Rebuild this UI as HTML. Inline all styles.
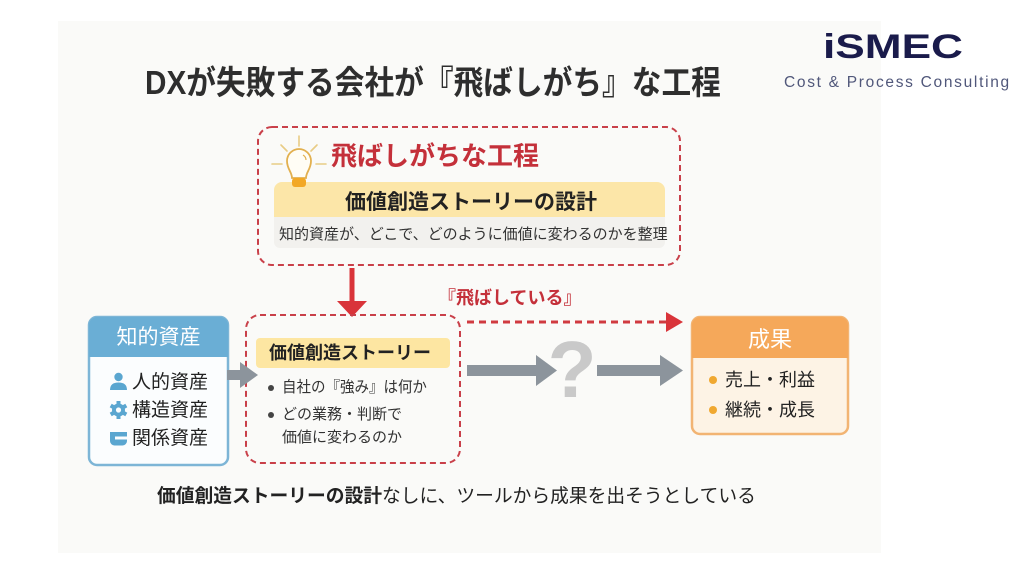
<!DOCTYPE html>
<html>
<head>
<meta charset="utf-8">
<style>
html,body{margin:0;padding:0;}
body{width:1024px;height:576px;position:relative;overflow:hidden;background:#ffffff;font-family:"Liberation Sans","Noto Sans CJK JP",sans-serif;}
.t{position:absolute;white-space:nowrap;font-family:"Liberation Sans","Noto Sans CJK JP",sans-serif;}
#panel{position:absolute;left:58px;top:21px;width:823px;height:532px;background:#fafaf8;}
svg{position:absolute;left:0;top:0;}
</style>
</head>
<body>
<div id="panel"></div>

<svg width="1024" height="576" viewBox="0 0 1024 576">
  <!-- top dashed box -->
  <rect x="258" y="127" width="422" height="138" rx="14" ry="14" fill="none" stroke="#c9404a" stroke-width="2" stroke-dasharray="6 4"/>
  <!-- yellow band -->
  <path d="M274,190 a8,8 0 0 1 8,-8 h375 a8,8 0 0 1 8,8 v27 h-391 z" fill="#fce6a8"/>
  <path d="M274,217 h391 v25 a6,6 0 0 1 -6,6 h-379 a6,6 0 0 1 -6,-6 z" fill="#f2f1ee"/>

  <!-- lightbulb -->
  <g stroke="#e8cc85" stroke-width="1.6" stroke-linecap="round">
    <line x1="299" y1="136" x2="299" y2="146"/>
    <line x1="281" y1="145" x2="287" y2="151"/>
    <line x1="317" y1="145" x2="311" y2="151"/>
    <line x1="272" y1="164" x2="282" y2="164"/>
    <line x1="316" y1="164" x2="326" y2="164"/>
  </g>
  <path d="M292,178 C292,172 287,169 287,161 A12,12 0 1 1 311,161 C311,169 306,172 306,178 Z" fill="#fffdf5" stroke="#e2b04f" stroke-width="1.8"/>
  <path d="M303,155 a6,6 0 0 1 3,5" fill="none" stroke="#e2b04f" stroke-width="1.2"/>
  <rect x="292" y="178" width="14" height="9" rx="3" fill="#f2a826"/>

  <!-- red down arrow -->
  <rect x="349.5" y="268" width="5" height="35" fill="#d9343a"/>
  <polygon points="337,301 367,301 352,317" fill="#d9343a"/>

  <!-- dashed red arrow -->
  <line x1="467" y1="322" x2="668" y2="322" stroke="#d03a40" stroke-width="3" stroke-dasharray="7 5"/>
  <polygon points="666,312 683,322 666,332" fill="#d9343a"/>

  <!-- middle dashed box -->
  <rect x="246" y="315" width="214" height="148" rx="14" ry="14" fill="none" stroke="#c9404a" stroke-width="2" stroke-dasharray="6 4"/>
  <rect x="256" y="338" width="194" height="30" rx="4" fill="#fde6a2"/>
  <circle cx="271" cy="388" r="3" fill="#444"/>
  <circle cx="271" cy="415" r="3" fill="#444"/>

  <!-- left box -->
  <rect x="89" y="317" width="139" height="148" rx="8" fill="#fbfdfe" stroke="#7db5d6" stroke-width="2.5"/>
  <path d="M89,357 v-32 a8,8 0 0 1 8,-8 h123 a8,8 0 0 1 8,8 v32 z" fill="#6aaed5"/>
  <!-- person icon -->
  <circle cx="118.5" cy="377" r="4.2" fill="#5aa6d0"/>
  <path d="M110,390 Q110,382.5 118.5,382.5 Q127,382.5 127,390 Z" fill="#5aa6d0"/>
  <!-- gear icon -->
  <g fill="#5aa6d0" transform="translate(118.5,410)">
    <circle r="6.5"/>
    <rect x="-2" y="-9" width="4" height="18"/>
    <rect x="-2" y="-9" width="4" height="18" transform="rotate(60)"/>
    <rect x="-2" y="-9" width="4" height="18" transform="rotate(120)"/>
    <circle r="2.6" fill="#fbfdfe"/>
  </g>
  <!-- relation icon -->
  <path d="M110,432 h17 v4.5 h-12 v3 h12 v1.5 a4.5,4.5 0 0 1 -4.5,4.5 h-8 a4.5,4.5 0 0 1 -4.5,-4.5 z" fill="#5aa6d0"/>

  <!-- gray arrow 1 -->
  <rect x="227" y="370" width="15" height="10" fill="#8c949c"/>
  <polygon points="240,362 258,375 240,388" fill="#8c949c"/>
  <!-- gray arrow 2 -->
  <rect x="467" y="365" width="72" height="11" fill="#8c949c"/>
  <polygon points="536,355 557,370.5 536,386" fill="#8c949c"/>
  <!-- gray arrow 3 -->
  <rect x="597" y="365" width="66" height="11" fill="#8c949c"/>
  <polygon points="660,355 683,370.5 660,386" fill="#8c949c"/>

  <!-- result box -->
  <rect x="692" y="317" width="156" height="117" rx="8" fill="#fdf3e5" stroke="#f2b473" stroke-width="2.5"/>
  <path d="M692,358 v-33 a8,8 0 0 1 8,-8 h140 a8,8 0 0 1 8,8 v33 z" fill="#f5a85a"/>
  <circle cx="713" cy="380" r="4" fill="#f0a830"/>
  <circle cx="713" cy="410" r="4" fill="#f0a830"/>

  <!-- question mark -->
  <text x="572" y="397" text-anchor="middle" font-family="Liberation Sans, sans-serif" font-weight="bold" font-size="80" fill="#c9c9c9">?</text>
</svg>

<!-- Title -->
<div class="t" style="left:145px;top:66px;font-size:33px;line-height:33px;font-weight:bold;color:#2e2e2e;transform:scaleX(0.9);transform-origin:0 0;">DXが失敗する会社が『飛ばしがち』な工程</div>

<!-- Logo -->
<div class="t" style="left:823px;top:30px;font-size:34px;line-height:34px;font-weight:bold;color:#1a1b4b;transform:scaleX(1.3);transform-origin:0 0;">iSMEC</div>
<div class="t" style="left:784px;top:75px;font-size:15.5px;line-height:15px;letter-spacing:1.7px;color:#50577a;">Cost &amp; Process Consulting</div>

<!-- top box texts -->
<div class="t" style="left:331px;top:143px;font-size:26px;line-height:26px;font-weight:bold;color:#c4303a;">飛ばしがちな工程</div>
<div class="t" style="left:345px;top:191.5px;font-size:21px;line-height:21px;font-weight:bold;color:#222;">価値創造ストーリーの設計</div>
<div class="t" style="left:279px;top:227px;font-size:15px;line-height:16px;color:#333;transform:scaleX(1.0);transform-origin:0 0;">知的資産が、どこで、どのように価値に変わるのかを整理</div>

<!-- 飛ばしている -->
<div class="t" style="left:438px;top:289px;font-size:18px;line-height:18px;font-weight:bold;color:#c4303a;">『飛ばしている』</div>

<!-- left box texts -->
<div class="t" style="left:89px;width:139px;text-align:center;top:326.5px;font-size:21px;line-height:21px;color:#ffffff;">知的資産</div>
<div class="t" style="left:132px;top:372.5px;font-size:19px;line-height:19px;color:#222;">人的資産</div>
<div class="t" style="left:132px;top:400.5px;font-size:19px;line-height:19px;color:#222;">構造資産</div>
<div class="t" style="left:132px;top:428.5px;font-size:19px;line-height:19px;color:#222;">関係資産</div>

<!-- middle box texts -->
<div class="t" style="left:269px;top:344px;font-size:18px;line-height:18px;font-weight:bold;color:#222;">価値創造ストーリー</div>
<div class="t" style="left:282px;top:380px;font-size:15.5px;line-height:16px;color:#333;transform:scaleX(0.935);transform-origin:0 0;">自社の『強み』は何か</div>
<div class="t" style="left:282px;top:407px;font-size:15px;line-height:16px;color:#333;">どの業務・判断で</div>
<div class="t" style="left:282px;top:430px;font-size:15px;line-height:16px;color:#333;">価値に変わるのか</div>

<!-- result box texts -->
<div class="t" style="left:692px;width:156px;text-align:center;top:329px;font-size:22px;line-height:22px;color:#ffffff;">成果</div>
<div class="t" style="left:725px;top:371px;font-size:18px;line-height:18px;color:#222;">売上・利益</div>
<div class="t" style="left:725px;top:401px;font-size:18px;line-height:18px;color:#222;">継続・成長</div>

<!-- bottom text -->
<div class="t" style="left:157px;top:485.5px;font-size:18.75px;line-height:19px;color:#222;"><b>価値創造ストーリーの設計</b>なしに、ツールから成果を出そうとしている</div>
</body>
</html>
